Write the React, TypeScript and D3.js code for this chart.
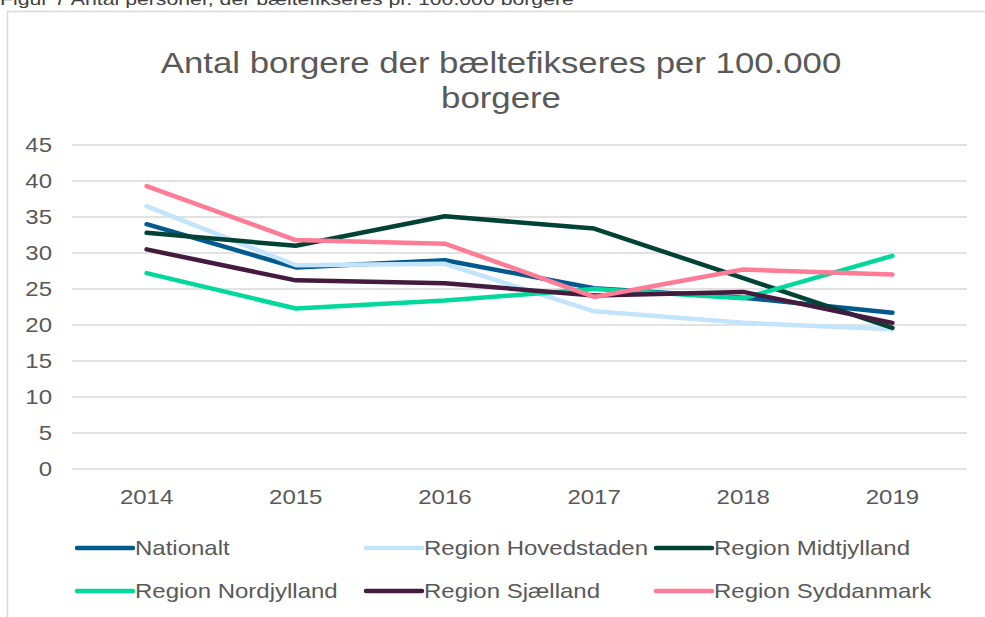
import React from "react";
import * as d3 from "d3";

const years = ["2014", "2015", "2016", "2017", "2018", "2019"];
const yTicks = [0, 5, 10, 15, 20, 25, 30, 35, 40, 45];

const nationalt = [34.0, 28.0, 29.0, 25.1, 23.8, 21.7];
const hovedstaden = [36.5, 28.3, 28.5, 21.9, 20.3, 19.4];
const midtjylland = [32.8, 31.0, 35.1, 33.4, 26.5, 19.6];
const nordjylland = [27.2, 22.3, 23.4, 25.0, 23.7, 29.6];
const sjaelland = [30.5, 26.2, 25.8, 24.1, 24.6, 20.3];
const syddanmark = [39.3, 31.8, 31.3, 23.9, 27.7, 27.0];

const seriesNames = [
  "Nationalt",
  "Region Hovedstaden",
  "Region Midtjylland",
  "Region Nordjylland",
  "Region Sjælland",
  "Region Syddanmark",
];
const seriesValues = [nationalt, hovedstaden, midtjylland, nordjylland, sjaelland, syddanmark];
const seriesColors = ["#005A8E", "#C2E4FC", "#004236", "#00D99B", "#441A3E", "#FF7B96"];

const W = 985;
const H = 617;
const FONT = "'Liberation Sans', Arial, sans-serif";
const TEXT = "#595959";
const SX = 1.2;

function T({
  x,
  y,
  size,
  anchor = "start",
  fill = TEXT,
  sx = SX,
  dy,
  children,
}: {
  x: number;
  y: number;
  size: number;
  anchor?: string;
  fill?: string;
  sx?: number;
  dy?: string;
  children: React.ReactNode;
}) {
  return (
    <text
      transform={`translate(${x},${y}) scale(${sx},1)`}
      fontSize={size}
      fill={fill}
      textAnchor={anchor}
      dy={dy}
    >
      {children}
    </text>
  );
}

export default function App() {
  const x = d3.scaleBand<string>().domain(years).range([72, 967]);
  const y = d3.scaleLinear().domain([0, 45]).range([469, 145]);
  const cx = (yr: string) => (x(yr) as number) + x.bandwidth() / 2;
  const line = d3
    .line<number>()
    .x((_, i) => cx(years[i]))
    .y((d) => y(d));

  const legendCols = [77, 366, 656];
  const legendRows = [548, 591];

  return (
    <div style={{ position: "absolute", left: 0, top: 0 }}>
      <svg width={W} height={H} style={{ display: "block" }} fontFamily={FONT}>
        <rect x={0} y={0} width={W} height={H} fill="#fff" />
        <T x={0} y={5} size={17} fill="#404040" sx={1.25}>
          Figur 7 Antal personer, der bæltefikseres pr. 100.000 borgere
        </T>
        <path d={`M7.5,${H} V11.5 H${W}`} fill="none" stroke="#d9d9d9" strokeWidth={1.5} />
        <T x={501} y={73} size={29} anchor="middle">
          Antal borgere der bæltefikseres per 100.000
        </T>
        <T x={501} y={108} size={29} anchor="middle">
          borgere
        </T>
        {yTicks.map((t) => (
          <g key={t}>
            <line x1={72} x2={967} y1={y(t)} y2={y(t)} stroke="#d9d9d9" strokeWidth={1.3} />
            <T x={52} y={y(t)} dy="0.36em" size={20} anchor="end">
              {t}
            </T>
          </g>
        ))}
        {years.map((yr) => (
          <T key={yr} x={cx(yr)} y={504} size={20} anchor="middle">
            {yr}
          </T>
        ))}
        {seriesValues.map((vals, i) => (
          <path
            key={seriesNames[i]}
            d={line(vals) as string}
            fill="none"
            stroke={seriesColors[i]}
            strokeWidth={4.5}
            strokeLinecap="round"
            strokeLinejoin="round"
          />
        ))}
        {seriesNames.map((name, i) => {
          const lx = legendCols[i % 3];
          const ly = legendRows[Math.floor(i / 3)];
          return (
            <g key={name}>
              <line
                x1={lx}
                x2={lx + 56}
                y1={ly}
                y2={ly}
                stroke={seriesColors[i]}
                strokeWidth={4.5}
                strokeLinecap="round"
              />
              <T x={lx + 58} y={ly} dy="0.36em" size={20}>
                {name}
              </T>
            </g>
          );
        })}
      </svg>
    </div>
  );
}
